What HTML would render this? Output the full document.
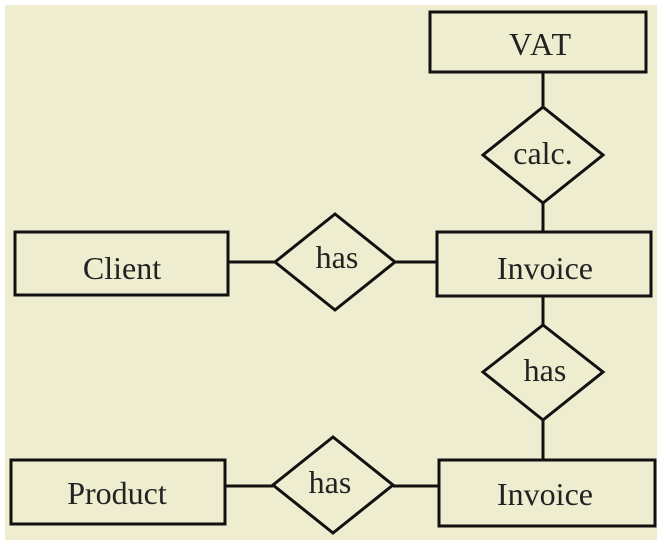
<!DOCTYPE html>
<html><head><style>
html,body{margin:0;padding:0;background:#fff;}
svg{display:block;}
text{font-family:"Liberation Serif",serif;font-size:32px;fill:#222;text-anchor:middle;dominant-baseline:central;}
</style></head><body>
<svg width="663" height="548" viewBox="0 0 663 548">
<rect x="5" y="5" width="652" height="535" fill="#efedd0"/>
<g stroke="#111" stroke-width="3" fill="none">
<rect x="430" y="12" width="216" height="60"/>
<line x1="543" y1="72" x2="543" y2="107"/>
<polygon points="543,107 603,155 543,203 483,155"/>
<line x1="543" y1="203" x2="543" y2="232"/>
<rect x="437" y="232" width="214" height="64"/>
<rect x="15" y="232" width="213" height="63"/>
<polygon points="335,214 395,262 335,310 275,262"/>
<line x1="228" y1="262" x2="275" y2="262"/>
<line x1="395" y1="262" x2="437" y2="262"/>
<line x1="543" y1="296" x2="543" y2="325"/>
<polygon points="543,325 603,372 543,420 483,372"/>
<line x1="543" y1="420" x2="543" y2="460"/>
<rect x="439" y="460" width="216" height="66"/>
<rect x="11" y="460" width="214" height="64"/>
<polygon points="333,437 393,485 333,533 273,485"/>
<line x1="225" y1="486" x2="273" y2="486"/>
<line x1="393" y1="486" x2="439" y2="486"/>
</g>
<text x="541" y="44" letter-spacing="2">VAT</text>
<text x="543" y="153">calc.</text>
<text x="545" y="268">Invoice</text>
<text x="122" y="268">Client</text>
<text x="337" y="257">has</text>
<text x="545" y="370">has</text>
<text x="545" y="494">Invoice</text>
<text x="117" y="493">Product</text>
<text x="330" y="482">has</text>
</svg>
</body></html>
